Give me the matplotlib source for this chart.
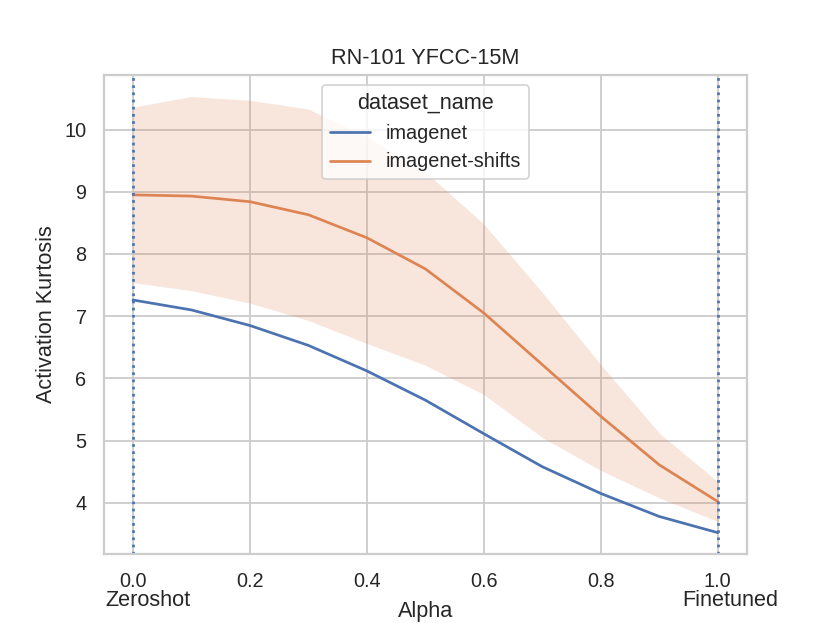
import numpy as np
import matplotlib
matplotlib.use("Agg")
import matplotlib.pyplot as plt
import seaborn as sns

alpha = [0.0, 0.1, 0.2, 0.3, 0.4, 0.5, 0.6, 0.7, 0.8, 0.9, 1.0]

# imagenet (no visible spread)
imagenet = [7.26, 7.10, 6.85, 6.53, 6.12, 5.65, 5.11, 4.58, 4.15, 3.78, 3.52]

# imagenet-shifts mean and band
shifts = [8.95, 8.93, 8.84, 8.63, 8.26, 7.76, 7.05, 6.22, 5.39, 4.61, 4.02]
shifts_hi = [10.36, 10.53, 10.47, 10.33, 9.88, 9.32, 8.48, 7.38, 6.22, 5.12, 4.34]
shifts_lo = [7.54, 7.41, 7.21, 6.93, 6.56, 6.21, 5.74, 5.05, 4.52, 4.08, 3.70]

sns.set_theme(style="whitegrid")
plt.rcParams['font.family'] = ['Liberation Sans', 'DejaVu Sans']

pal = sns.color_palette("deep")

fig, ax = plt.subplots(figsize=(830 / 130, 623 / 130), dpi=130)

ax.plot(alpha, imagenet, color=pal[0], lw=1.5, label="imagenet")
ax.plot(alpha, shifts, color=pal[1], lw=1.5, label="imagenet-shifts")
ax.fill_between(alpha, shifts_lo, shifts_hi, color=pal[1], alpha=0.2, lw=0)

ax.axvline(0.0, color=pal[0], ls=":", lw=1.5)
ax.axvline(1.0, color=pal[0], ls=":", lw=1.5)

ax.set_title("RN-101 YFCC-15M")
ax.set_ylabel("Activation Kurtosis")
ax.set_xlabel("Alpha", labelpad=6)
ax.set_yticks([4, 5, 6, 7, 8, 9, 10])

ax.legend(title="dataset_name", loc="upper center")

ax.text(0.025, -0.075, "Zeroshot", transform=ax.get_xaxis_transform(),
        ha="center", va="top")
ax.text(1.022, -0.075, "Finetuned", transform=ax.get_xaxis_transform(),
        ha="center", va="top")

fig.savefig("out.png", dpi=130)
